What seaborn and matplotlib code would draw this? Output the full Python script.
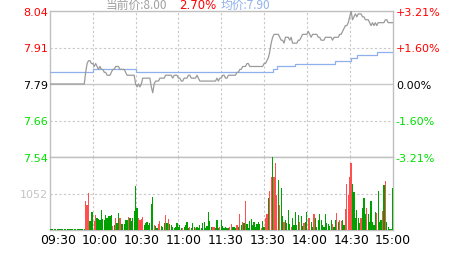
import numpy as np
import pandas as pd
import matplotlib
matplotlib.use("Agg")
import matplotlib.pyplot as plt
import seaborn as sns

# ---------------- data ----------------
prev_close = 7.79
price_span = 0.25          # +/- 3.21 %
vol_tick = 1052

left_labels = ["8.04", "7.91", "7.79", "7.66", "7.54"]
right_labels = ["+3.21%", "+1.60%", "0.00%", "-1.60%", "-3.21%"]

price = [
    7.79, 7.79, 7.79, 7.79, 7.79, 7.79, 7.79, 7.79, 7.79, 7.79,
    7.79, 7.79, 7.79, 7.79, 7.79, 7.79, 7.79, 7.79, 7.79, 7.79,
    7.79, 7.79, 7.79, 7.79, 7.79, 7.83, 7.86, 7.87, 7.87, 7.86,
    7.86, 7.85, 7.86, 7.85, 7.84, 7.85, 7.84, 7.84, 7.83, 7.83,
    7.82, 7.82, 7.82, 7.83, 7.84, 7.84, 7.85, 7.85, 7.85, 7.84,
    7.84, 7.84, 7.84, 7.83, 7.82, 7.82, 7.82, 7.82, 7.82, 7.82,
    7.79, 7.78, 7.79, 7.78, 7.79, 7.81, 7.81, 7.81, 7.81, 7.81,
    7.81, 7.78, 7.76, 7.79, 7.80, 7.80, 7.80, 7.81, 7.81, 7.81,
    7.81, 7.82, 7.82, 7.82, 7.82, 7.82, 7.81, 7.82, 7.82, 7.82,
    7.81, 7.81, 7.80, 7.80, 7.81, 7.81, 7.81, 7.82, 7.82, 7.81,
    7.81, 7.81, 7.81, 7.82, 7.81, 7.80, 7.80, 7.80, 7.80, 7.80,
    7.80, 7.80, 7.80, 7.80, 7.80, 7.80, 7.80, 7.81, 7.80, 7.81,
    7.81, 7.82, 7.82, 7.81, 7.81, 7.82, 7.82, 7.82, 7.82, 7.82,
    7.82, 7.83, 7.83, 7.84, 7.84, 7.85, 7.85, 7.85, 7.86, 7.86,
    7.85, 7.85, 7.85, 7.85, 7.85, 7.85, 7.85, 7.85, 7.85, 7.85,
    7.86, 7.86, 7.87, 7.88, 7.90, 7.93, 7.95, 7.96, 7.96, 7.96,
    7.96, 7.95, 7.94, 7.94, 7.93, 7.95, 7.95, 7.95, 7.94, 7.95,
    7.93, 7.93, 7.93, 7.93, 7.94, 7.94, 7.95, 7.96, 7.96, 7.96,
    7.96, 7.97, 7.96, 7.95, 7.96, 7.96, 7.96, 7.96, 7.95, 7.95,
    7.94, 7.94, 7.94, 7.95, 7.95, 7.95, 7.95, 7.95, 7.94, 7.95,
    7.95, 7.95, 7.95, 7.96, 7.96, 7.97, 7.98, 7.99, 7.99, 8.00,
    8.02, 8.04, 8.01, 8.02, 8.03, 8.02, 8.03, 8.03, 8.03, 8.02,
    8.02, 8.01, 8.01, 8.01, 8.00, 7.99, 8.00, 7.99, 8.00, 7.99,
    8.00, 8.00, 8.00, 8.00, 8.00, 8.01, 8.01, 8.00, 8.00, 8.00,
    8.00,
]

# average price: level and the minute where it starts
avg_levels = [7.83, 7.84, 7.83, 7.84, 7.85, 7.86, 7.87, 7.88, 7.89, 7.90]
avg_starts = [0, 30, 60, 156, 159, 172, 200, 211, 215, 229]

volume = [
    25, 25, 25, 25, 25, 25, 25, 25, 25, 25,
    25, 25, 25, 25, 25, 25, 25, 25, 25, 25,
    25, 25, 25, 25, 25, 830, 710, 1070, 250, 530,
    530, 250, 430, 340, 310, 300, 570, 310, 280, 430,
    360, 400, 400, 420, 120, 150, 360, 200, 500, 360,
    170, 170, 170, 300, 290, 380, 340, 250, 360, 540,
    1280, 620, 360, 280, 330, 380, 150, 200, 230, 150,
    200, 740, 950, 150, 110, 60, 180, 270, 110, 80,
    200, 420, 200, 330, 170, 140, 100, 60, 80, 200,
    100, 140, 60, 60, 100, 140, 220, 60, 100, 60,
    200, 100, 60, 100, 60, 140, 60, 200, 240, 60,
    110, 520, 260, 100, 80, 80, 50, 290, 60, 100,
    290, 120, 60, 100, 60, 60, 100, 170, 100, 100,
    60, 140, 80, 450, 140, 220, 200, 830, 170, 60,
    260, 330, 140, 240, 100, 170, 240, 170, 60, 260,
    100, 360, 470, 930, 1120, 1540, 2095, 1530, 1940, 1020,
    1430, 710, 1200, 410, 230, 290, 200, 570, 180, 85,
    360, 150, 520, 150, 440, 230, 400, 110, 210, 230,
    530, 340, 340, 230, 80, 455, 360, 85, 280, 455,
    300, 130, 100, 455, 210, 180, 115, 280, 180, 80,
    280, 490, 230, 280, 250, 280, 150, 600, 1340, 1000,
    1540, 1940, 1340, 1090, 360, 580, 360, 200, 360, 620,
    910, 470, 640, 450, 240, 830, 230, 150, 510, 490,
    1120, 230, 280, 560, 1310, 1400, 230, 85, 30, 30,
    1220,
]

# r = up (red bar), g = down (green bar), one letter per minute
vol_dir = (
    "gggggggggg" "gggggggggg" "gggggrrrgg" "grrggggggg" "ggggrgrggr"
    "gggggrgggg" "ggrrrrgggg" "gggrggrrgg" "grgrgggggg" "gggrggggrg"
    "ggrggggggg" "ggggrrgggr" "ggggggrrgg" "grgrgrgrgg" "ggggggggrg"
    "grrgrrgrrr" "grggrggggr" "gggggrggrg" "grrggrgggg" "ggggggggrg"
    "grgrrggrrr" "rrggggggrg" "ggrggggggr" "gggrgrgggg" "g"
)

time_labels = ["09:30", "10:00", "10:30", "11:00", "11:30",
               "13:30", "14:00", "14:30", "15:00"]

# ---------------- derived frames ----------------
minutes = np.arange(len(price))
avg = np.repeat(avg_levels, np.diff(avg_starts + [len(price)]))
df = pd.DataFrame({"minute": minutes, "price": price, "avg": avg,
                   "volume": volume, "dir": list(vol_dir)})

# ---------------- styling ----------------
PRICE_C = "#9a9a9a"
AVG_C = "#8fb0ec"
RED_T = "#ff0000"
GREEN_T = "#00e000"
BAR_RED = "#ff5050"
BAR_GREEN = "#00a000"
GRID_C = "#c8c8c8"
SPINE_C = "#c0c0c0"
DASH = (0, (2, 2))

W, H = 463, 255
fig = plt.figure(figsize=(W / 100, H / 100), dpi=100)
fig.patch.set_facecolor("white")


def rect(x0, y0, x1, y1):
    return [x0 / W, 1 - y1 / H, (x1 - x0) / W, (y1 - y0) / H]


ax = fig.add_axes(rect(50, 12, 393, 158))
axv = fig.add_axes(rect(50, 158, 393, 231), sharex=ax)

# grid lines
for a in (ax, axv):
    for m in range(30, 240, 30):
        a.axvline(m, color=GRID_C, lw=0.8, ls=DASH, zorder=0)
ax.axhline(prev_close, color=GRID_C, lw=1.0, zorder=0)
for k in (0.5, -0.5):
    ax.axhline(prev_close + k * price_span, color=GRID_C, lw=0.8, ls=DASH, zorder=0)
axv.axhline(vol_tick, color=GRID_C, lw=0.8, ls=DASH, zorder=0)

# price + average lines
sns.lineplot(data=df, x="minute", y="avg", ax=ax, color=AVG_C, lw=0.9,
             drawstyle="steps-post", estimator=None, zorder=3)
sns.lineplot(data=df, x="minute", y="price", ax=ax, color=PRICE_C, lw=0.9,
             estimator=None, zorder=4)

# volume bars
sns.barplot(data=df, x="minute", y="volume", hue="dir", ax=axv,
            palette={"r": BAR_RED, "g": BAR_GREEN}, native_scale=True,
            dodge=False, legend=False, width=0.85, saturation=1,
            errorbar=None, linewidth=0, antialiased=False, zorder=3)

ax.set_xlim(0, 240)
ax.set_ylim(prev_close - price_span, prev_close + price_span)
axv.set_ylim(0, 2 * vol_tick)

for a in (ax, axv):
    a.set_xlabel("")
    a.set_ylabel("")
    a.set_facecolor("white")
    for s in a.spines.values():
        s.set_color(SPINE_C)
        s.set_linewidth(1.0)

# left price labels
levels = [prev_close + k * price_span for k in (1, 0.5, 0, -0.5, -1)]
level_colors = [RED_T, RED_T, "black", GREEN_T, GREEN_T]
ax.set_yticks(levels)
ax.set_yticklabels(left_labels)
for t, c in zip(ax.get_yticklabels(), level_colors):
    t.set_color(c)
ax.tick_params(axis="y", length=0, pad=1.5, labelsize=8)
ax.tick_params(axis="x", length=0, labelbottom=False)

# right percent labels
axr = ax.twinx()
axr.set_ylim(ax.get_ylim())
axr.set_yticks(levels)
axr.set_yticklabels(right_labels)
for t, c in zip(axr.get_yticklabels(), level_colors):
    t.set_color(c)
axr.tick_params(axis="y", length=0, pad=2, labelsize=8)
for s in axr.spines.values():
    s.set_visible(False)

# volume label
axv.set_yticks([vol_tick])
axv.set_yticklabels([str(vol_tick)])
axv.get_yticklabels()[0].set_color("#c4c4c4")
axv.tick_params(axis="y", length=0, pad=1.5, labelsize=8)

# time labels (evenly spaced, slightly offset as in the original)
label_pos = [(8 + k * 41.94) * 240 / 343 for k in range(len(time_labels))]
axv.set_xticks(label_pos)
axv.set_xticklabels(time_labels)
axv.tick_params(axis="x", length=0, pad=2, labelsize=9, labelcolor="black")

# header
cur = price[-1]
chg = (cur / prev_close - 1) * 100
cjk = ["Noto Sans CJK SC", "DejaVu Sans"]
fig.text(106 / W, 1 - 5.5 / H, f"当前价:{cur:.2f}", color="#a0a0a0",
         fontsize=8.5, family=cjk, ha="left", va="center")
fig.text(179 / W, 1 - 5.5 / H, f"{chg:.2f}%", color=RED_T,
         fontsize=8.5, ha="left", va="center")
fig.text(221 / W, 1 - 5.5 / H, f"均价:{avg[-1]:.2f}", color=AVG_C,
         fontsize=8.5, family=cjk, ha="left", va="center")

fig.savefig("out.png", dpi=100, facecolor="white")
